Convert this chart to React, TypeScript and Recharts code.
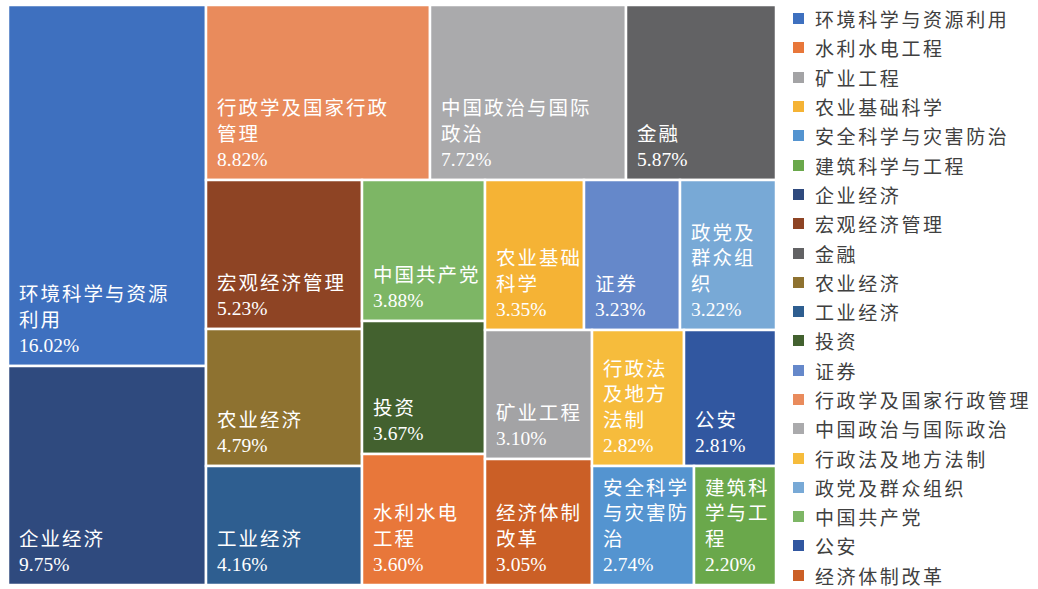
import React from "react";
import { Treemap } from "recharts";

// legend order
const categories = [
  "环境科学与资源利用",
  "水利水电工程",
  "矿业工程",
  "农业基础科学",
  "安全科学与灾害防治",
  "建筑科学与工程",
  "企业经济",
  "宏观经济管理",
  "金融",
  "农业经济",
  "工业经济",
  "投资",
  "证券",
  "行政学及国家行政管理",
  "中国政治与国际政治",
  "行政法及地方法制",
  "政党及群众组织",
  "中国共产党",
  "公安",
  "经济体制改革",
];

const shares = [
  16.02, 3.6, 3.1, 3.35, 2.74, 2.2, 9.75, 5.23, 5.87, 4.79, 4.16, 3.67, 3.23,
  8.82, 7.72, 2.82, 3.22, 3.88, 2.81, 3.05,
];

// where the label text prefers to wrap (word boundaries)
const wordParts: Record<string, string[]> = {
  环境科学与资源利用: ["环境科学与资源", "利用"],
  水利水电工程: ["水利水电", "工程"],
  农业基础科学: ["农业基础", "科学"],
  行政学及国家行政管理: ["行政学及国家行政", "管理"],
  中国政治与国际政治: ["中国政治与国际", "政治"],
  经济体制改革: ["经济体制", "改革"],
};

// how many tiles go in each squarified strip
const stripSizes = [2, 3, 3, 3, 3, 2, 2, 2];

const colors = [
  "#3E70BF", "#E8773A", "#A3A3A5", "#F5B335", "#5494D0", "#6AA84B",
  "#2F4A7E", "#8E4424", "#626264", "#8E7230", "#2E5E90", "#43612F",
  "#6588CA", "#E98B5C", "#AAAAAC", "#F6BC3C", "#78A9D6", "#7DB665",
  "#3157A0", "#CB5F26",
];

const FONT = '"Liberation Serif", "Noto Sans CJK SC", serif';
const PITCH = 21.5;

type Leaf = { name: string; value: number };
type Node = { name: string; children: (Leaf | Node)[] };

const buildTree = (): Node => {
  const sorted: Leaf[] = categories
    .map((name, i) => ({ name, value: shares[i] }))
    .sort((a, b) => b.value - a.value);
  const strips: Node[] = [];
  let pos = 0;
  stripSizes.forEach((n, i) => {
    strips.push({ name: `strip${i}`, children: sorted.slice(pos, pos + n) });
    pos += n;
  });
  // chain: [strip0, [strip1, [strip2, ... [strip6, strip7]]]]
  let rest: Node = { name: "rest6", children: [strips[6], strips[7]] };
  for (let i = 5; i >= 0; i--) {
    rest = { name: i === 0 ? "root" : `rest${i}`, children: [strips[i], rest] };
  }
  return rest;
};

const treeData = buildTree().children;

const wrapLabel = (name: string, maxChars: number) => {
  const parts = wordParts[name] || [name];
  const lines: string[] = [];
  let cur = "";
  parts.forEach((p) => {
    if ((cur + p).length <= maxChars) {
      cur += p;
      return;
    }
    if (cur) lines.push(cur);
    cur = "";
    let rem = p;
    while (rem.length > maxChars) {
      lines.push(rem.slice(0, maxChars));
      rem = rem.slice(maxChars);
    }
    cur = rem;
  });
  if (cur) lines.push(cur);
  return lines;
};

const Tile = (props: any) => {
  const { x, y, width, height, name, value, children } = props;
  if (children && children.length) return null;
  const idx = categories.indexOf(name);
  if (idx < 0) return null;
  const maxChars = Math.max(1, Math.floor((width - 11.5) / PITCH));
  const lines = wrapLabel(name, maxChars);
  const all = [...lines, `${value.toFixed(2)}%`];
  const base = y + height - 14;
  return (
    <g>
      <rect x={x} y={y} width={width} height={height} fill={colors[idx]} stroke="#fff" strokeWidth={2.5} />
      {all.map((l, i) => (
        <text
          key={i}
          x={x + 11}
          y={base - (all.length - 1 - i) * 25.5}
          fill="#fff"
          fontSize={19.5}
          fontFamily={FONT}
          letterSpacing={i < lines.length ? 2 : 0}
        >
          {l}
        </text>
      ))}
    </g>
  );
};

export default function App() {
  return (
    <div style={{ position: "absolute", left: 0, top: 0, width: 1038, height: 589, background: "#fff" }}>
      <div style={{ position: "absolute", left: 8, top: 5 }}>
        <Treemap
          width={768}
          height={580}
          data={treeData}
          dataKey="value"
          nameKey="name"
          aspectRatio={0.5}
          isAnimationActive={false}
          content={<Tile />}
        />
      </div>
      <div style={{ position: "absolute", left: 793, top: 4, fontFamily: FONT }}>
        {categories.map((c, i) => (
          <div key={c} style={{ height: 29.3, display: "flex", alignItems: "center" }}>
            <span style={{ width: 11, height: 11, background: colors[i], display: "inline-block", marginRight: 11 }} />
            <span style={{ fontSize: 19, letterSpacing: 2.6, color: "#404040", whiteSpace: "nowrap" }}>{c}</span>
          </div>
        ))}
      </div>
    </div>
  );
}
